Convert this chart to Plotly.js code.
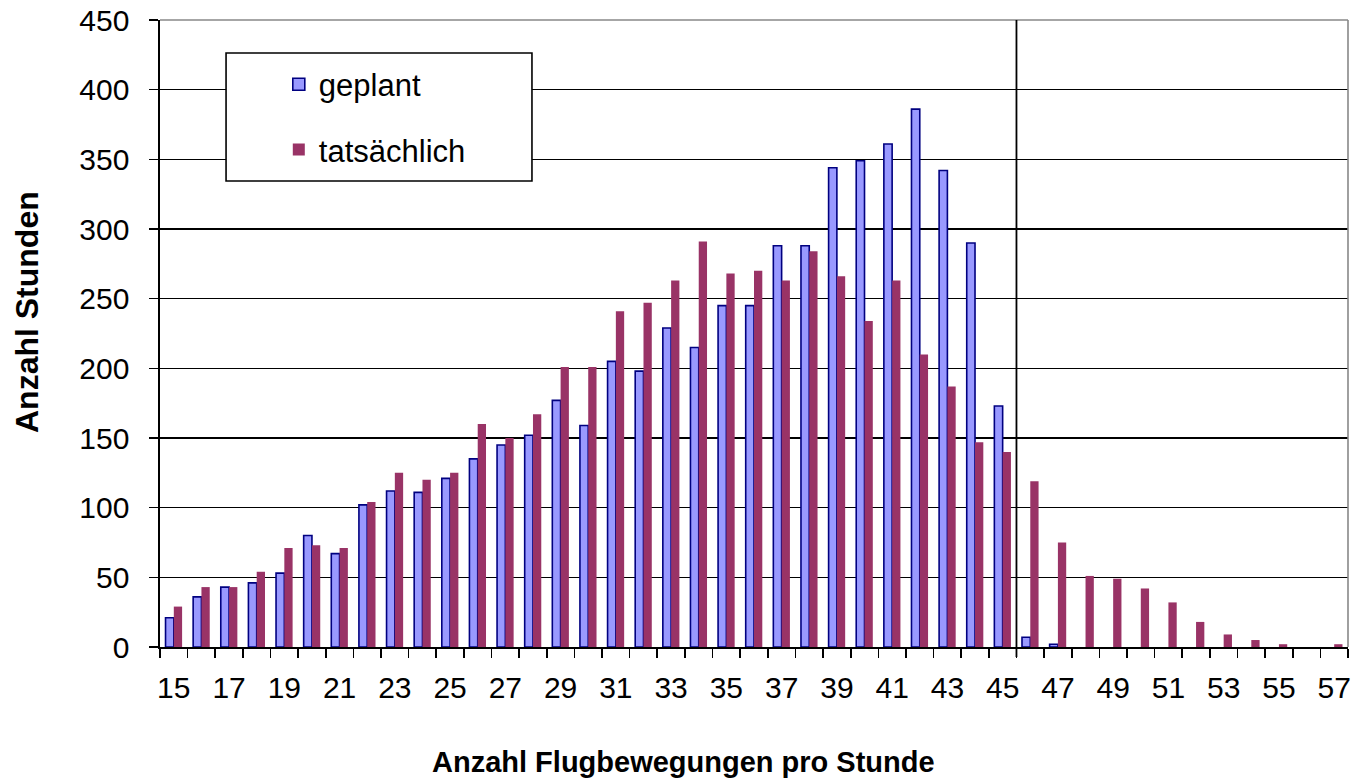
<!DOCTYPE html>
<html>
<head>
<meta charset="utf-8">
<script src="https://cdn.plot.ly/plotly-3.0.1.min.js"></script>
<style>html,body{margin:0;padding:0;background:#fff;}#chart{width:1357px;height:782px;}</style>
</head>
<body>
<div id="chart"></div>
<script>
const categories = [15,16,17,18,19,20,21,22,23,24,25,26,27,28,29,30,31,32,33,34,35,36,37,38,39,40,41,42,43,44,45,46,47,48,49,50,51,52,53,54,55,56,57];
const geplant = [21,36,43,46,53,80,67,102,112,111,121,135,145,152,177,159,205,198,229,215,245,245,288,288,344,349,361,386,342,290,173,7,2,0,0,0,0,0,0,0,0,0,0];
const tatsaechlich = [29,43,43,54,71,73,71,104,125,120,125,160,150,167,201,201,241,247,263,291,268,270,263,284,266,234,263,210,187,147,140,119,75,51,49,42,32,18,9,5,2,0,2];
const xTickLabels = [15,17,19,21,23,25,27,29,31,33,35,37,39,41,43,45,47,49,51,53,55,57];
const yTicks = [0,50,100,150,200,250,300,350,400,450];
const seriesNames = ['geplant','tatsächlich'];
const limitValue = 45.5;

const boundaries = [];
for (let i = 0; i <= categories.length; i++) boundaries.push(categories[0] - 0.5 + i);

const font = 'Liberation Sans, Arial, sans-serif';

const traces = [
  {type:'bar', name:seriesNames[0], x:categories, y:geplant, legendgroup:'a',
   marker:{color:'#9999FF', line:{color:'#000080', width:geplant.map(v => v > 0 ? 1.6 : 0)}}},
  {type:'bar', name:seriesNames[1], x:categories, y:tatsaechlich, legendgroup:'b',
   marker:{color:'#993366', line:{width:0}}}
];

const layout = {
  width:1357, height:782,
  margin:{l:160, r:9, t:20, b:135},
  paper_bgcolor:'#fff', plot_bgcolor:'#fff',
  font:{family:font, size:30, color:'#000'},
  barmode:'group', bargap:0.4, bargroupgap:0,
  showlegend:true,
  legend:{x:0.1, y:0.94, xanchor:'left', yanchor:'top', bgcolor:'rgba(0,0,0,0)', borderwidth:0,
          traceorder:'grouped', tracegroupgap:22, font:{size:31}},
  xaxis:{range:[categories[0]-0.5, categories[categories.length-1]+0.5], tickmode:'array',
         tickvals:xTickLabels, ticktext:xTickLabels.map(String), ticks:'', showgrid:false,
         showline:true, linecolor:'#000', linewidth:1.6, zeroline:false,
         ticklabelstandoff:13, tickfont:{size:30},
         minor:{tickmode:'array', tickvals:boundaries, ticks:'outside', ticklen:9, tickcolor:'#000', tickwidth:1.6, showgrid:false}},
  yaxis:{range:[0,450], tickmode:'array', tickvals:yTicks, ticks:'outside', ticklen:9,
         tickcolor:'#000', tickwidth:1.6, showgrid:true, gridcolor:'#000', gridwidth:1.6,
         showline:true, linecolor:'#000', linewidth:1.6, zeroline:false,
         ticklabelstandoff:14, tickfont:{size:30}},
  shapes:[
    {type:'line', xref:'paper', yref:'paper', x0:0, x1:1, y0:1, y1:1, line:{color:'#888', width:1.6}, layer:'above'},
    {type:'line', xref:'paper', yref:'paper', x0:1, x1:1, y0:0, y1:1, line:{color:'#888', width:1.6}, layer:'above'},
    {type:'line', xref:'x', yref:'paper', x0:limitValue, x1:limitValue, y0:-0.016, y1:1, line:{color:'#000', width:1.8}, layer:'above'},
    {type:'rect', xref:'paper', yref:'paper', x0:0.0556, x1:0.3131, y0:0.7432, y1:0.9474, fillcolor:'#fff', line:{color:'#000', width:1.6}, layer:'above'}
  ],
  annotations:[
    {text:'<b>Anzahl Flugbewegungen pro Stunde</b>', xref:'paper', yref:'paper', x:(683-160)/1188, y:-(762-647)/627,
     xanchor:'center', yanchor:'middle', showarrow:false, font:{size:29, family:font}},
    {text:'<b>Anzahl Stunden</b>', xref:'paper', yref:'paper', x:-(160-27)/1188, y:(647-312)/627,
     xanchor:'center', yanchor:'middle', showarrow:false, textangle:-90, font:{size:32, family:font}}
  ]
};

Plotly.newPlot('chart', traces, layout, {displayModeBar:false, staticPlot:true});
</script>
</body>
</html>
